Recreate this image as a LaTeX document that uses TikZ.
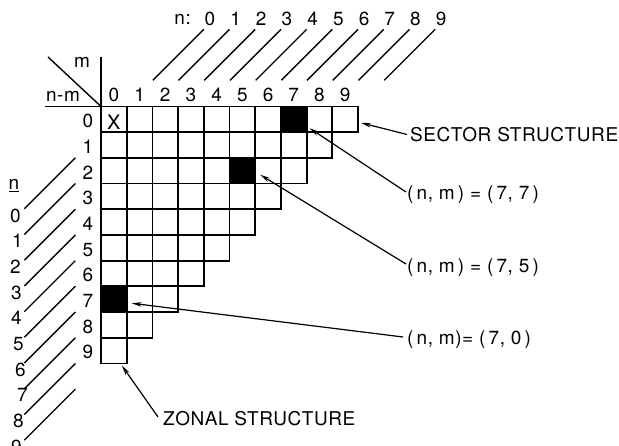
\documentclass[tikz,border=0pt]{standalone}
\usepackage{fontspec}
\setmainfont{TeX Gyre Heros}[LetterSpace=3]
\usetikzlibrary{arrows.meta}
\begin{document}
\begin{tikzpicture}[x=1pt,y=-1pt,
  cell/.style={draw,line width=1.8pt,minimum size=25.7pt,inner sep=0pt,outer sep=0pt},
  txt/.style={font=\fontsize{19}{21}\selectfont,inner sep=0pt},
  frame/.style={line width=1.8pt},
  guide/.style={line width=1.4pt},
  arr/.style={line width=1.2pt,-{Stealth[length=10pt,width=4.5pt]}}]
\useasboundingbox (0,0) rectangle (619,446);

% triangular table: row r = n-m, column c = m, cells with r+c <= 9
\foreach \r in {0,...,9}{
  \pgfmathtruncatemacro{\lastc}{9-\r}
  \foreach \c in {0,...,\lastc}{
    \node[cell] (c-\r-\c) at ({101+25.7*(\c+0.5)},{106.5+25.7*(\r+0.5)}) {};
  }
}
% highlighted coefficients
\foreach \p in {0-7,2-5,7-0}
  \fill (c-\p.north west) rectangle (c-\p.south east);
\node[txt,font=\fontsize{20}{22}\selectfont] (xmark) at ([yshift=-3pt]c-0-0.center) {X};

% column (m) and row (n-m) indices
\foreach \c in {0,...,9}
  \node[txt,anchor=base] (col-\c) at ({101+25.7*(\c+0.5)},101.5) {\c};
\foreach \r in {0,...,9}
  \node[txt,anchor=base] (row-\r) at (88,{106.5+25.7*(\r+1)-4.5}) {\r};

% corner header
\coordinate (vtop) at (101,57);
\coordinate (hleft) at (45,106.5);
\coordinate (dtop) at (48,57);
\draw[frame] (vtop) -- (c-0-0.north west);
\draw[frame] (hleft) -- (c-0-0.north west);
\draw[guide] (dtop) -- (c-0-0.north west);
\node[txt,anchor=base] (mhead) at (82,68) {m};
\node[txt,anchor=base] (nmhead) at (63,101.5) {n-m};

% degree n: diagonals running up to the top scale
\node[txt,anchor=base east] (ntitle) at (191,25) {n:};
\foreach \n in {0,...,9}{
  \draw[guide] ([shift={(39,-39)}]c-0-\n.center) -- ++(51,-51) coordinate (ntop-\n);
  \node[txt,anchor=base] (ntl-\n) at ([shift={(6,-4.3)}]ntop-\n) {\n};
}

% degree n: diagonals running down to the left scale
\node[txt,anchor=base] (nleft) at (14,190) {\underline{n}};
\foreach \n/\dx in {0/-9,1/-7,2/-9,3/-8,4/-8,5/-6,6/-4,7/-2,8/-6,9/-8}{
  \draw[guide] ([shift={(-38.5,38.5)}]c-\n-0.center) -- ++(-51,51) coordinate (nbot-\n);
  \node[txt,anchor=base] (nbl-\n) at ([shift={(\dx,13.2)}]nbot-\n) {\n};
}

% annotations
\node[txt,anchor=base west] (sector) at (410,141.5) {SECTOR STRUCTURE};
\node[txt,anchor=base west] (l77) at (407,200) {(\,n, m\,) = (\,7, 7\,)};
\node[txt,anchor=base west] (l75) at (407,273) {(\,n, m\,) = (\,7, 5\,)};
\node[txt,anchor=base west] (l70) at (407,345) {(\,n, m)= (\,7, 0\,)};
\node[txt,anchor=base west] (zonal) at (163,426) {ZONAL STRUCTURE};

\draw[arr] ([shift={(-3,-7)}]sector.base west) -- ([shift={(3,3.5)}]c-0-9.east);
\draw[arr] ([shift={(-1,-8)}]l77.base west) -- ([shift={(3,-4)}]c-0-7.south east);
\draw[arr] ([shift={(-1,-9)}]l75.base west) -- ([shift={(5,4)}]c-2-5.east);
\draw[arr] ([shift={(-4,-8)}]l70.base west) -- ([shift={(5,4)}]c-7-0.east);
\draw[arr] ([shift={(-5,-9)}]zonal.base west) -- ([shift={(8,2)}]c-9-0.south);
\end{tikzpicture}
\end{document}
